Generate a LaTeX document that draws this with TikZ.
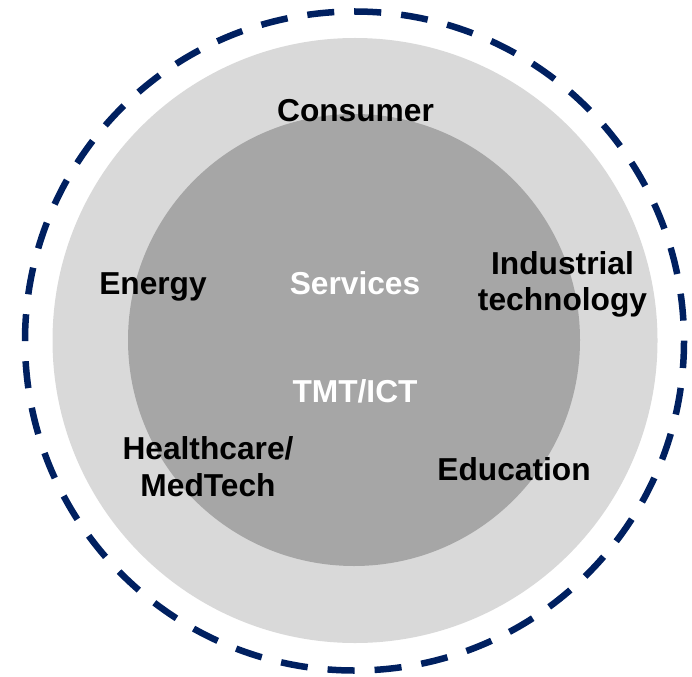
\documentclass[tikz,border=0pt]{standalone}
\usepackage{fontspec}
\setmainfont{Liberation Sans}
\definecolor{ringlight}{HTML}{D9D9D9}
\definecolor{ringdark}{HTML}{A6A6A6}
\definecolor{navyline}{HTML}{002060}
\begin{document}
\begin{tikzpicture}[x=1pt,y=-1pt,
  lbl/.style={font=\fontsize{31.7}{36.5}\selectfont\bfseries, align=center, inner sep=0pt, anchor=base},
  wlbl/.style={lbl, text=white},
  outerring/.style={draw=navyline, line width=6.5pt, dash pattern=on 27.05pt off 20pt}]
\useasboundingbox (0,0) rectangle (692,676);
\fill[ringlight] (355,340.5) circle (302.5);
\fill[ringdark] (354,340) circle (226);
\path[outerring] (354.5,341) circle (329.5);
\node[lbl] (consumer) at (355.5,121.7) {Consumer};
\node[lbl] (energy) at (153,294) {Energy};
\node[wlbl] (services) at (355,294) {Services};
\node[lbl] (industrial) at (562.5,310.5) {Industrial\\technology};
\node[wlbl] (tmt) at (355,402.3) {TMT/ICT};
\node[lbl] (health) at (208,496.2) {Healthcare/\\MedTech};
\node[lbl] (education) at (514,480.7) {Education};
\end{tikzpicture}
\end{document}
